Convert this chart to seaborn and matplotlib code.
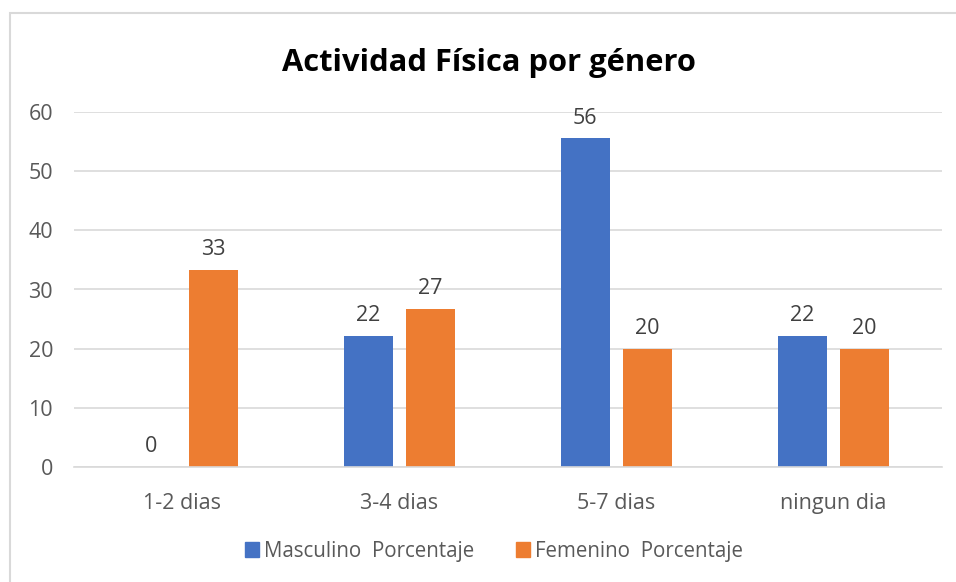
import pandas as pd
import seaborn as sns
import matplotlib.pyplot as plt
from matplotlib.patches import Rectangle

categorias = ["1-2 dias", "3-4 dias", "5-7 dias", "ningun dia"]
masculino = [0, 22.2, 55.6, 22.2]
femenino = [33.3, 26.7, 20.0, 20.0]
series = ["Masculino  Porcentaje", "Femenino  Porcentaje"]
colores = ["#4472C4", "#ED7D31"]

df = pd.DataFrame({
    "categoria": categorias * 2,
    "valor": masculino + femenino,
    "serie": [series[0]] * 4 + [series[1]] * 4,
})

sns.set_style("white")
plt.rcParams["font.family"] = ["Open Sans", "DejaVu Sans"]
gris = "#595959"

fig = plt.figure(figsize=(9.56, 5.82), dpi=100)
ax = fig.add_axes([74 / 956, 1 - 466.7 / 582, (941.7 - 74) / 956, (466.7 - 112.3) / 582])

sns.barplot(data=df, x="categoria", y="valor", hue="serie", palette=colores,
            width=0.572, gap=0.21, saturation=1, linewidth=0, ax=ax, legend=False)

for cont in ax.containers:
    ax.bar_label(cont, labels=[f"{v:.0f}" for v in cont.datavalues],
                 padding=7, fontsize=15.5, color="#404040")

ax.set_ylim(0, 60)
ax.set_yticks(range(0, 61, 10))
ax.set_xlabel("")
ax.set_ylabel("")
ax.grid(axis="y", color="#D9D9D9", linewidth=1.2)
ax.set_axisbelow(True)
for s in ["top", "right", "left"]:
    ax.spines[s].set_visible(False)
ax.spines["bottom"].set_color("#D9D9D9")
ax.spines["bottom"].set_linewidth(1.2)
ax.tick_params(axis="both", length=0, labelsize=15.5, colors=gris)
ax.tick_params(axis="y", pad=15)
ax.tick_params(axis="x", pad=19)

fig.text(489 / 956, 1 - 63 / 582, "Actividad Física por género",
         ha="center", va="center", fontsize=22.2, fontweight="bold", color="black")

handles = [Rectangle((0, 0), 1, 1, color=c) for c in colores]
fig.legend(handles, series, loc="center", bbox_to_anchor=(494 / 956, 1 - 551 / 582),
           ncol=2, frameon=False, fontsize=14.8, labelcolor=gris,
           handlelength=0.7, handleheight=0.7, handletextpad=0.25, columnspacing=2.0)

# borde del grafico
fig.add_artist(Rectangle((10 / 956, -0.05), 1.1, 1 - 13 / 582 + 0.05,
                         transform=fig.transFigure, fill=False,
                         edgecolor="#D9D9D9", linewidth=1.5))

fig.savefig("out.png", dpi=100)
